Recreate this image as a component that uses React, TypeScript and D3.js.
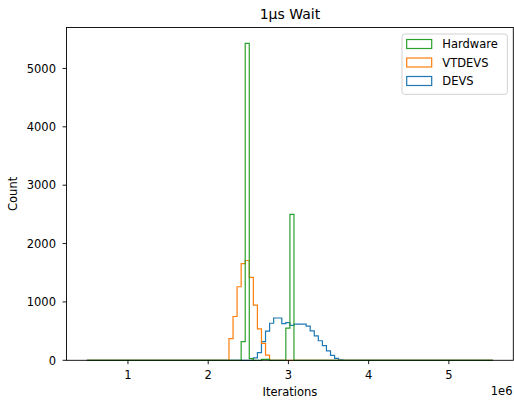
import React from "react";
import * as d3 from "d3";

// ---- data ----
const title = "1µs Wait";
const xLabel = "Iterations";
const yLabel = "Count";
const binCount = 100;
const dataMin = 0.487e6;
const dataMax = 5.55e6;

const seriesNames = ["DEVS", "VTDEVS", "Hardware"];
const seriesColors = ["#1f77b4", "#ff7f0e", "#2ca02c"];

// counts starting from given bin index
const devsStart = 41;
const devsCounts = [40, 130, 320, 500, 635, 725, 725, 630, 645, 600, 620, 620, 620, 585, 505, 420, 335, 250, 160, 85, 34, 8];
const vtdevsStart = 35;
const vtdevsCounts = [370, 750, 1260, 1655, 1710, 1420, 945, 540, 290, 90];
const hardwareStart = 38;
const hardwareCounts = [320, 5430, 30, 0, 0, 15, 15, 0, 0, 0, 0, 550, 2500];

const xTicks = [1e6, 2e6, 3e6, 4e6, 5e6];
const xTickLabels = ["1", "2", "3", "4", "5"];
const yTicks = [0, 1000, 2000, 3000, 4000, 5000];

function fullCounts(start: number, counts: number[]): number[] {
  const arr = new Array(binCount).fill(0);
  counts.forEach((c, i) => (arr[start + i] = c));
  return arr;
}

const allSeries = [
  fullCounts(devsStart, devsCounts),
  fullCounts(vtdevsStart, vtdevsCounts),
  fullCounts(hardwareStart, hardwareCounts),
];

export default function App() {
  const W = 514, H = 406;
  const left = 66.5, right = 513.3, top = 27.5, bottom = 360.3;
  const span = dataMax - dataMin;
  const x = d3.scaleLinear().domain([dataMin - 0.05 * span, dataMax + 0.05 * span]).range([left, right]);
  const maxC = d3.max(allSeries.flat()) as number;
  const y = d3.scaleLinear().domain([0, maxC * 1.05]).range([bottom, top]);
  const edges = d3.range(binCount + 1).map((i) => dataMin + (i * span) / binCount);

  const line = d3.line<[number, number]>().x((d) => x(d[0])).y((d) => y(d[1]));
  const paths = allSeries.map((counts) => {
    const pts: [number, number][] = [[edges[0], 0]];
    counts.forEach((c, i) => {
      pts.push([edges[i], c]);
      pts.push([edges[i + 1], c]);
    });
    pts.push([edges[binCount], 0]);
    return line(pts) as string;
  });

  const font = "DejaVu Sans, sans-serif";
  const legendOrder = [2, 1, 0];
  const lx = 402, ly = 34, lw = 105.3, lh = 60.3;

  return (
    <svg width={W} height={H} style={{ position: "absolute", left: 0, top: 0 }} fontFamily={font}>
      <rect x={0} y={0} width={W} height={H} fill="#fff" />
      <g>
        {paths.map((p, i) => (
          <path key={i} d={p} fill="none" stroke={seriesColors[i]} strokeWidth={1.2} strokeLinejoin="miter" />
        ))}
      </g>
      {/* spines */}
      <rect x={left} y={top} width={right - left} height={bottom - top} fill="none" stroke="#000" strokeWidth={0.9} />
      {/* x ticks */}
      {xTicks.map((t, i) => (
        <g key={t}>
          <line x1={x(t)} x2={x(t)} y1={bottom} y2={bottom + 3.9} stroke="#000" strokeWidth={0.9} />
          <text x={x(t)} y={bottom + 19} fontSize={11.5} textAnchor="middle" fill="#000">{xTickLabels[i]}</text>
        </g>
      ))}
      {/* y ticks */}
      {yTicks.map((t) => (
        <g key={t}>
          <line x1={left - 3.9} x2={left} y1={y(t)} y2={y(t)} stroke="#000" strokeWidth={0.9} />
          <text x={left - 10.5} y={y(t) + 4.2} fontSize={11.5} textAnchor="end" fill="#000">{t}</text>
        </g>
      ))}
      <text x={512.5} y={394.5} fontSize={11.5} textAnchor="end" fill="#000">1e6</text>
      <text x={(left + right) / 2} y={396} fontSize={11.5} textAnchor="middle" fill="#000">{xLabel}</text>
      <text transform={`translate(17,${(top + bottom) / 2}) rotate(-90)`} fontSize={11.5} textAnchor="middle" fill="#000">{yLabel}</text>
      <text x={(left + right) / 2} y={19.3} fontSize={14} textAnchor="middle" fill="#000">{title}</text>
      {/* legend */}
      <rect x={lx} y={ly} width={lw} height={lh} rx={2.5} fill="#fff" fillOpacity={0.8} stroke="#ccc" strokeWidth={0.9} />
      {legendOrder.map((si, row) => {
        const cy = 44 + row * 18.5;
        return (
          <g key={si}>
            <rect x={406.7} y={cy - 4.5} width={25} height={9} fill="none" stroke={seriesColors[si]} strokeWidth={1.2} />
            <text x={442.3} y={cy + 4.2} fontSize={11.5} fill="#000">{seriesNames[si]}</text>
          </g>
        );
      })}
    </svg>
  );
}
